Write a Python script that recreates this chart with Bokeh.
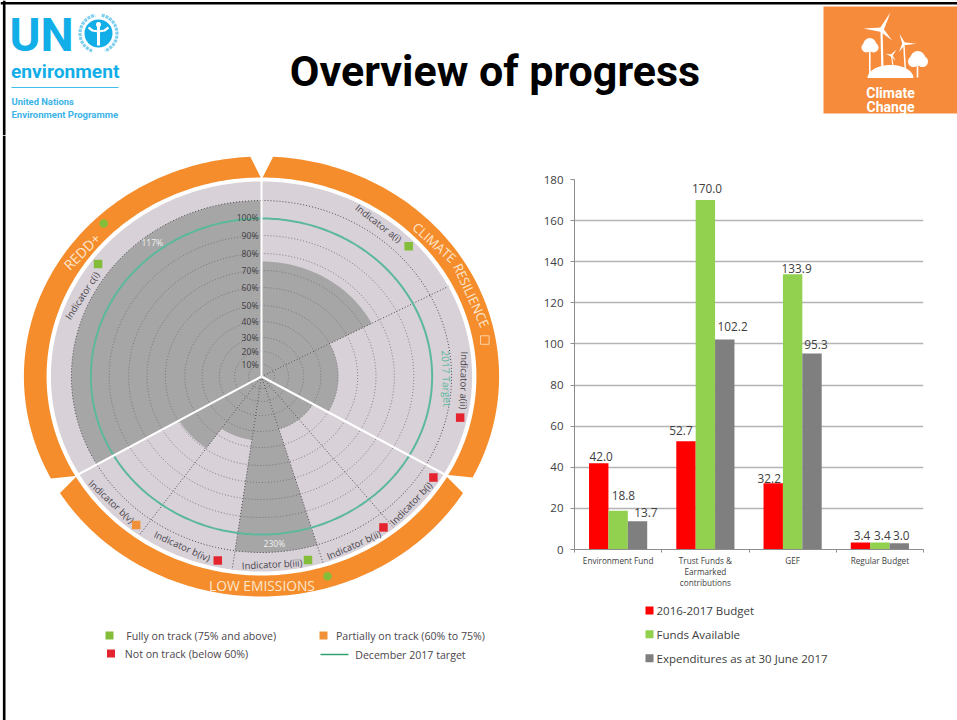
import numpy as np
from bokeh.plotting import figure
from bokeh.layouts import column, row
from bokeh.models import Span, FixedTicker, Range1d
from bokeh.core.properties import value
from bokeh.embed import file_html
from bokeh.resources import INLINE

# ---------- bar chart data ----------
categories = ["Environment Fund", "Trust Funds &\nEarmarked\ncontributions", "GEF", "Regular Budget"]
budget = [42.0, 52.7, 32.2, 3.4]
funds = [18.8, 170.0, 133.9, 3.4]
expenditure = [13.7, 102.2, 95.3, 3.0]
series_names = ["2016-2017 Budget", "Funds Available", "Expenditures as at 30 June 2017"]
series_colors = ["#ff0000", "#92d050", "#7f7f7f"]
y_ticks = [0, 20, 40, 60, 80, 100, 120, 140, 160, 180]
# label nudges (px)
label_dx = [[2.4, -5, -4, 1.5], [5.3, 1.7, 4, 2.5], [8.4, 7.9, 4, 2]]
label_dy = [[6.4, 11, 5, 6.7], [15, 12, 6, 6.7], [9, 13, 9, 7.5]]

# ---------- radar data (clockwise degrees from the top; radius in chart units) ----------
ind_names = ["Indicator a(i)", "Indicator a(ii)", "Indicator b(i)", "Indicator b(ii)",
             "Indicator b(iii)", "Indicator b(iv)", "Indicator b(v)", "Indicator c(i)"]
sector_edges = [0, 62.5, 120, 141, 163, 188, 215.5, 240, 360]
sector_radius = [115, 71, 55, 55, 176, 64, 88, 176]
ring_labels = ["10%", "20%", "30%", "40%", "50%", "60%", "70%", "80%", "90%", "100%"]
ring_radius = [12, 25, 39, 55, 71, 89, 106, 123, 141, 159]
target_radius = 158
outer_dotted = 176
disc_radius = 195
status = ["g", "r", "r", "r", "g", "r", "o", "g"]
status_colors = {"g": "#84bd3a", "r": "#e4242e", "o": "#f0913a"}
marker_angle = [46.3, 102.6, 122.4, 143.2, 166.8, 192.4, 218, 306.6]
ind_angle = [35.3, 91.2, 132.5, 153.1, 177, 203.4, 228, 296]
ind_radius = [187.5, 187.5, 188, 189, 188, 185, 187, 184.5]
ind_rot = [-38, -91, 46, 24, 3, -24.5, -43, 57]

ORANGE = "#f58d2c"
LAV = "#d8d1d8"
GREY = "#a6a6a6"
TEAL = "#5cb89c"
BLUE = "#12aee8"
XS = 1.08
CX, CY = 261, 376


def pol(theta, r):
    t = np.radians(np.asarray(theta, dtype=float))
    return np.asarray(r) * np.sin(t), np.asarray(r) * np.cos(t)


def arc_band(a_in0, a_in1, a_out0, a_out1, r_in, r_out):
    ti = np.linspace(a_in0, a_in1, 120)
    to = np.linspace(a_out1, a_out0, 120)
    xi, yi = pol(ti, r_in)
    xo, yo = pol(to, r_out)
    return np.r_[xi, xo], np.r_[yi, yo]


# ---------- header ----------
h = figure(width=957, height=135, x_range=(0, 957), y_range=(135, 0), output_backend="svg",
           toolbar_location=None, min_border=0, outline_line_color=None, frame_align=False)
h.axis.visible = False
h.grid.visible = False
h.segment([0, 3.7], [2.8, 0], [957, 3.7], [2.8, 135], line_color="#000000", line_width=2.6)


def ht(x, y, s, size, color="#000000", bold=True, font="Roboto", align="left", baseline="middle"):
    h.text([x], [y], [s], text_font=value(font), text_font_size=f"{size}px",
           text_font_style="bold" if bold else "normal", text_color=color,
           text_align=align, text_baseline=baseline)


ht(494.5, 70, "Overview of progress", 43, align="center")
ht(9, 34, "UN", 47, BLUE)
ht(10.5, 71, "environment", 19.2, BLUE)
h.segment([11], [87], [118], [87], line_color="#3fbdec", line_width=1)
ht(11, 101, "United Nations", 9.4, "#3cb4e6")
ht(11, 114, "Environment Programme", 9.5, "#3cb4e6")
# emblem
h.scatter([98], [33], size=28, marker="circle", fill_color=BLUE, line_color=None)
for a0, a1 in ((200, 350), (10, 160)):
    t = np.radians(np.linspace(a0, a1, 40))
    h.line(98 + 18.5 * np.sin(t), 33 - 18.5 * np.cos(t), line_color="#7fd0f0", line_width=3.2, line_dash="3 1")
h.line([98, 98], [22, 45], line_color="#ffffff", line_width=3)
h.line([88, 92, 98, 104, 108], [27, 30, 31, 30, 27], line_color="#ffffff", line_width=2.2)
h.scatter([98], [24], size=5, marker="circle", fill_color="#ffffff", line_color=None)

# orange tile
h.quad(left=[823], right=[957], top=[6], bottom=[113], fill_color="#f58b3b", line_color=None)


def blade(hx, hy, tx, ty, w):
    dx, dy = tx - hx, ty - hy
    n = np.hypot(dx, dy)
    px, py = -dy / n * w, dx / n * w
    h.patch([hx + px, hx - px, tx], [hy + py, hy - py, ty], fill_color="#ffffff", line_color=None)


for hub, tips, base, w in (((881, 29.3), ((890, 11.7), (862.7, 28), (891.7, 40)), (882, 72), 2.2),
                           ((903.3, 43.3), ((899, 33.3), (916, 43.3), (898.3, 51.7)), (905, 72), 1.5),
                           ((891, 55), ((896, 49), (885, 53.3), (895, 60)), (892.7, 67), 1.1)):
    h.segment([hub[0]], [hub[1]], [base[0]], [base[1]], line_color="#ffffff", line_width=w)
    for tip in tips:
        blade(hub[0], hub[1], tip[0], tip[1], w)
h.segment([869.3, 917], [45, 59], [869.3, 917], [76, 77], line_color="#ffffff", line_width=1.6)
h.scatter([869.3, 866, 873, 917.3, 913, 922], [44, 47, 47, 58, 61, 61], size=[13, 10, 10, 15, 11, 11],
          marker="circle", fill_color="#ffffff", line_color=None)
t = np.linspace(0, np.pi, 40)
h.patch(890 + 23 * np.cos(t), 77.5 - 13 * np.sin(t), fill_color="#ffffff", line_color=None)
ht(890, 92, "Climate", 14, "#ffffff", align="center")
ht(890, 106.5, "Change", 14, "#ffffff", align="center")

# ---------- radar ----------
L = figure(width=533, height=585, x_range=Range1d((0 - CX) / XS, (533 - CX) / XS),
           y_range=Range1d(CY - 720, CY - 135), output_backend="svg", toolbar_location=None,
           min_border=0, outline_line_color=None, frame_align=False)
L.axis.visible = False
L.grid.visible = False
L.add_layout(Span(location=(3.7 - CX) / XS, dimension="height", line_color="#000000", line_width=2.6))

full = np.linspace(0, 360, 361)
dx, dy = pol(full, disc_radius)
L.patch(dx, dy, fill_color=LAV, line_color=None)

# orange bands
for a in ((0.3, 119.7, 2.8, 117.3), (120.3, 239.7, 122, 238), (240, 359.8, 242.4, 357.3)):
    xs, ys = arc_band(a[0], a[1], a[2], a[3], 199, 220)
    L.patch(xs, ys, fill_color=ORANGE, line_color=None)

# indicator sectors
for i, r in enumerate(sector_radius):
    t = np.linspace(sector_edges[i], sector_edges[i + 1], 60)
    x, y = pol(t, r)
    L.patch(np.r_[0, x], np.r_[0, y], fill_color=GREY, line_color=None)

# dotted rings
for r in ring_radius[:-1]:
    x, y = pol(full, r)
    L.line(x, y, line_color="#6f6a70", line_width=0.8, line_dash="1 2")
x, y = pol(full, outer_dotted)
L.line(x, y, line_color="#4e4a50", line_width=1, line_dash="1 2")
for a in (62.5, 141, 163, 188, 215.5):
    x, y = pol([a, a], [0, disc_radius])
    L.line(x, y, line_color="#4e4a50", line_width=1, line_dash="1 2")

# target
x, y = pol(full, target_radius)
L.line(x, y, line_color=TEAL, line_width=2)

# white spokes
for a in (0, 120, 240):
    x, y = pol([a, a], [0, disc_radius + 1])
    L.line(x, y, line_color="#ffffff", line_width=2)


def ltxt(theta, r, s, size, color, rot=0, align="center", dxpx=0):
    x, y = pol(theta, r)
    L.text([float(x) + dxpx / XS], [float(y)], [s], text_font=value("Open Sans"), text_font_size=f"{size}px",
           text_color=color, angle=[rot], angle_units="deg", text_align=align, text_baseline="middle")


# ring labels
for r, s in zip(ring_radius, ring_labels):
    L.text([-3 / XS], [r], [s], text_font=value("Open Sans"), text_font_size="8.6px", text_color="#3f3c40",
           text_align="right", text_baseline="middle")

# indicators
for s, a, r, rot, st, ma in zip(ind_names, ind_angle, ind_radius, ind_rot, status, marker_angle):
    ltxt(a, r, s, 9.5, "#4a464c", rot)
    mx, my = pol(ma, 188.5)
    L.scatter([float(mx)], [float(my)], marker="square", size=8.5, fill_color=status_colors[st], line_color=None)

ltxt(323, 168, "117%", 8.5, "#f1f1f1")
ltxt(175.9, 167, "230%", 8.5, "#f1f1f1")
L.text([(446 - CX) / XS], [CY - 378], ["2017 Target"], text_font=value("Open Sans"), text_font_size="10.2px",
       text_color=TEAL, angle=[-88], angle_units="deg", text_align="center", text_baseline="middle")

# band labels
BAND_TXT = "#fde6cc"
ltxt(306.9, 208, "REDD+", 14, BAND_TXT, 45)
L.text([(434 - CX) / XS], [CY - 242], ["CLIMATE"], text_font=value("Open Sans"), text_font_size="13px",
       text_color=BAND_TXT, angle=[-41.5], angle_units="deg", text_align="center", text_baseline="middle")
L.text([(471 - CX) / XS], [CY - 295], ["RESILIENCE"], text_font=value("Open Sans"), text_font_size="13px",
       text_color=BAND_TXT, angle=[-65.7], angle_units="deg", text_align="center", text_baseline="middle")
L.text([(261.5 - CX) / XS], [CY - 585], ["LOW EMISSIONS"], text_font=value("Open Sans"), text_font_size="13.8px",
       text_color=BAND_TXT, text_align="center", text_baseline="middle")
x, y = pol([316.3, 163], [211.5, 209])
L.scatter(x, y, marker="circle", size=8.5, fill_color="#84bd3a", line_color=None)
x, y = pol([80], [210])
L.scatter(x, y, marker="square", size=8.5, fill_color=None, line_color="#fbd3a8", line_width=1)

# radar legend
leg_txt = "#4a464c"
for (lx, ly, c) in ((109, 635, "#84bd3a"), (323, 635, "#f0913a"), (110.5, 653, "#e4242e")):
    L.scatter([(lx - CX) / XS], [CY - ly], marker="square", size=8, fill_color=c, line_color=None)
L.line([(320 - CX) / XS, (348 - CX) / XS], [CY - 654, CY - 654], line_color="#2fa36f", line_width=1.5)
for lx, ly, s in ((125.7, 635, "Fully on track (75% and above)"), (124.3, 653, "Not on track (below 60%)"),
                  (335.5, 635, "Partially on track (60% to 75%)"), (354.7, 654, "December 2017 target")):
    L.text([(lx - CX) / XS], [CY - ly], [s], text_font=value("Open Sans"), text_font_size="10.6px",
           text_color=leg_txt, text_align="left", text_baseline="middle")

# ---------- bars ----------
R = figure(width=424, height=465, x_range=Range1d(0, 4), y_range=Range1d(0, 180), output_backend="svg",
           toolbar_location=None, min_border_left=41, min_border_right=34, min_border_top=44,
           min_border_bottom=51, outline_line_color=None, frame_align=False)
AXC = "#8c8c8c"
TXT = "#404040"
R.xgrid.visible = False
R.ygrid.grid_line_color = "#b4b4b4"
R.ygrid.grid_line_width = 1.3
R.yaxis.ticker = FixedTicker(ticks=y_ticks)
R.yaxis.minor_tick_line_color = None
R.yaxis.major_tick_in = 0
R.yaxis.major_tick_out = 4
R.yaxis.major_tick_line_color = AXC
R.yaxis.axis_line_color = AXC
R.yaxis.major_label_standoff = 7
R.yaxis.major_label_text_font = "Open Sans"
R.yaxis.major_label_text_font_size = "11.5px"
R.yaxis.major_label_text_color = TXT
centers = [i + 0.5 for i in range(len(categories))]
R.xaxis.ticker = FixedTicker(ticks=centers, minor_ticks=[0, 1, 2, 3, 4])
R.xaxis.major_label_overrides = dict(zip(centers, categories))
R.xaxis.major_tick_line_color = None
R.xaxis.major_tick_in = 0
R.xaxis.major_tick_out = 0
R.xaxis.minor_tick_line_color = AXC
R.xaxis.minor_tick_in = 0
R.xaxis.minor_tick_out = 3
R.xaxis.axis_line_color = AXC
R.xaxis.major_label_standoff = 2
R.xaxis.major_label_text_font = "Open Sans"
R.xaxis.major_label_text_font_size = "8.2px"
R.xaxis.major_label_text_line_height = 1.0
R.xaxis.major_label_text_color = TXT

BW = 2 / 9
for k, (vals, col) in enumerate(zip((budget, funds, expenditure), series_colors)):
    xs = [c + (k - 1) * BW for c in centers]
    R.vbar(x=xs, top=vals, width=BW, bottom=0, fill_color=col, line_color=None)
    for x, v, ox, oy in zip(xs, vals, label_dx[k], label_dy[k]):
        R.text([x], [v], [f"{v:.1f}"], x_offset=[ox], y_offset=[-oy], text_font=value("Open Sans"),
               text_font_size="11.8px", text_color=TXT, text_align="center", text_baseline="middle")

# series key under the bars
K = figure(width=424, height=120, x_range=Range1d(533, 957), y_range=Range1d(720, 600), output_backend="svg",
           toolbar_location=None, min_border=0, outline_line_color=None, frame_align=False)
K.axis.visible = False
K.grid.visible = False
key_y = [610, 633.7, 657.7]
for ky, name, col in zip(key_y, series_names, series_colors):
    K.scatter([649], [ky], marker="square", size=8, fill_color=col, line_color=None)
    K.text([656], [ky], [name], text_font=value("Open Sans"), text_font_size="11.5px", text_color=TXT,
           text_align="left", text_baseline="middle")

page = column(h, row(L, column(R, K, spacing=0), spacing=0), spacing=0,
              styles={"position": "absolute", "left": "0px", "top": "0px"})
open("out.html", "w").write(file_html(page, INLINE))
